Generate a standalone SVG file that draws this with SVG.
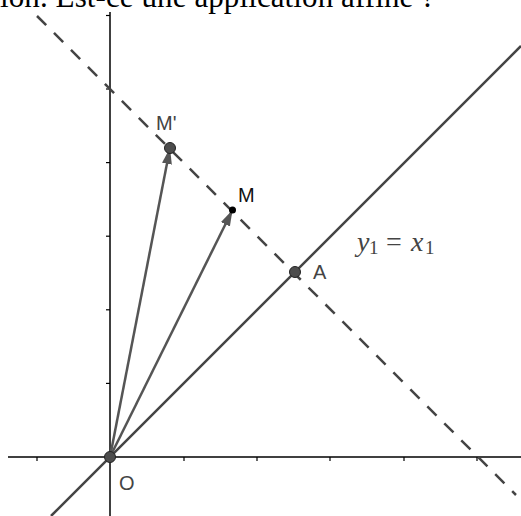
<svg xmlns="http://www.w3.org/2000/svg" width="521" height="516" viewBox="0 0 521 516">
<defs>
<style>
.axis{stroke:#000;stroke-width:1.5;fill:none}
.tick{stroke:#000;stroke-width:1.2}
.ln{stroke:#444;stroke-width:2.5;fill:none}
.dash{stroke:#444;stroke-width:2.5;fill:none;stroke-dasharray:13 11}
.vec{stroke:#555;stroke-width:2.5;fill:none;marker-end:url(#arr)}
.pt{fill:#4d4d4d;stroke:#222;stroke-width:1}
.lbl{font-family:"Liberation Sans","DejaVu Sans",sans-serif;font-size:20px;fill:#444}
.math{font-family:"Liberation Serif","DejaVu Serif",serif;fill:#444}
</style>
<marker id="arr" markerUnits="userSpaceOnUse" markerWidth="18" markerHeight="12" refX="16" refY="5" orient="auto">
<path d="M0,0 L16,5 L0,10 z" fill="#555"/>
</marker>
</defs>
<rect width="521" height="516" fill="#fff"/>
<text x="0" y="7" font-family="'Liberation Serif','Times New Roman',serif" font-size="31" fill="#000" textLength="435" lengthAdjust="spacing">ion. Est-ce une application affine ?</text>
<g id="axes">
<line class="axis" x1="8" y1="457" x2="521" y2="457"/>
<line class="axis" x1="110" y1="12" x2="110" y2="516"/>
<g class="tick">
<line x1="37" y1="457" x2="37" y2="461"/>
<line x1="184" y1="457" x2="184" y2="461"/>
<line x1="257" y1="457" x2="257" y2="461"/>
<line x1="330" y1="457" x2="330" y2="461"/>
<line x1="404" y1="457" x2="404" y2="461"/>
<line x1="477" y1="457" x2="477" y2="461"/>
<line x1="106" y1="383.4" x2="110" y2="383.4"/>
<line x1="106" y1="309.8" x2="110" y2="309.8"/>
<line x1="106" y1="236.2" x2="110" y2="236.2"/>
<line x1="106" y1="162.6" x2="110" y2="162.6"/>
<line x1="106" y1="89" x2="110" y2="89"/>
<line x1="106" y1="15.5" x2="110" y2="15.5"/>
</g>
</g>
<g id="connectors">
<line class="ln" x1="51" y1="516" x2="521" y2="46"/>
<line class="dash" x1="37" y1="16" x2="516" y2="495"/>
<line class="vec" x1="110" y1="457" x2="170" y2="148"/>
<line class="vec" x1="110" y1="457" x2="232.5" y2="210"/>
</g>
<g id="node-O">
<circle class="pt" cx="110" cy="457" r="5.5"/>
<text class="lbl" x="119" y="490">O</text>
</g>
<g id="node-A">
<circle class="pt" cx="295" cy="272" r="5.5"/>
<text class="lbl" x="313" y="279">A</text>
</g>
<g id="node-Mp">
<circle class="pt" cx="170" cy="148" r="5.5"/>
<text class="lbl" x="156" y="130">M'</text>
</g>
<g id="node-M">
<circle cx="232.5" cy="210" r="3.5" fill="#000"/>
<text class="lbl" x="238" y="202" style="fill:#111">M</text>
</g>
<g id="label-eq" class="math">
<text x="357" y="251" font-size="28" font-style="italic">y</text>
<text x="369" y="254" font-size="19">1</text>
<text x="386" y="251" font-size="28">=</text>
<text x="411" y="251" font-size="28" font-style="italic">x</text>
<text x="425" y="254" font-size="19">1</text>
</g>
</svg>
